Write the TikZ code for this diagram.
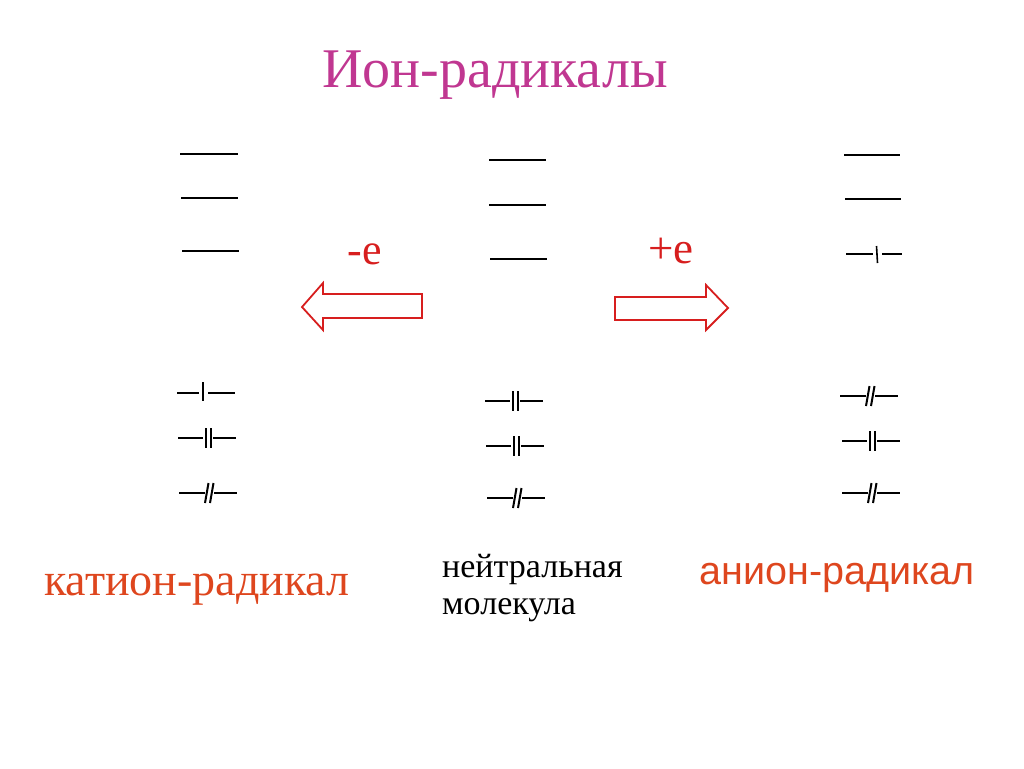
\documentclass[tikz,border=0pt]{standalone}
\usepackage{fontspec}
\setmainfont{Liberation Serif}
\newfontfamily\arialf{Liberation Sans}
\definecolor{titlec}{RGB}{192,55,145}
\definecolor{labelc}{RGB}{222,70,30}
\definecolor{arrc}{RGB}{215,30,30}
\tikzset{
  lvl/.style={line width=2pt, black},
  bigarrow/.style={draw=arrc, line width=1.8pt, fill=white, line join=miter},
  txt/.style={inner sep=0pt, anchor=base},
}
\newcommand\lvlempty[3]{\draw[lvl] (#1,#3)--(#2,#3);}
\newcommand\lvlsingle[2]{%
  \draw[lvl] (#1,#2)--++(22,0) (#1+31,#2)--++(27,0);
  \draw[lvl] (#1+26,#2-11)--++(0,19);}
\newcommand\lvldouble[2]{%
  \draw[lvl] (#1,#2)--++(25,0) (#1+35,#2)--++(23,0);
  \draw[lvl] (#1+27.5,#2-10)--++(0,20) (#1+32.5,#2-10)--++(0,20);}
\newcommand\lvlslant[2]{%
  \draw[lvl] (#1,#2)--++(26,0) (#1+35,#2)--++(23,0);
  \draw[lvl] (#1+26,#2+10)--(#1+29.5,#2-10) (#1+31,#2+10)--(#1+34.5,#2-10);}
\begin{document}
\begin{tikzpicture}[x=1pt,y=-1pt]
\useasboundingbox (0,0) rectangle (1024,768);
% title
\node[txt, text=titlec, font=\fontsize{56}{60}\selectfont] (title) at (495,87) {Ион-радикалы};
% left column (cation radical)
\lvlempty{180}{238}{154}
\lvlempty{181}{238}{198}
\lvlempty{182}{239}{251}
\lvlsingle{177}{393}
\lvldouble{178}{438}
\lvlslant{179}{493}
% middle column (neutral molecule)
\lvlempty{489}{546}{160}
\lvlempty{489}{546}{205}
\lvlempty{490}{547}{259}
\lvldouble{485}{401}
\lvldouble{486}{446}
\lvlslant{487}{498}
% right column (anion radical)
\lvlempty{844}{900}{155}
\lvlempty{845}{901}{199}
\draw[lvl, line width=1.6pt] (846,254)--(873,254) (882,254)--(902,254);
\draw[lvl, line width=1.6pt] (876.5,246)--(877.5,263);
\lvlslant{840}{396}
\lvldouble{842}{441}
\lvlslant{842}{493}
% arrows
\draw[bigarrow] (422,294) -- (323,294) -- (323,283) -- (302,307) -- (323,330) -- (323,318) -- (422,318) -- cycle;
\draw[bigarrow] (615,297) -- (706,297) -- (706,285) -- (728,308) -- (706,330) -- (706,320) -- (615,320) -- cycle;
\node[txt, anchor=center, text=arrc, font=\fontsize{44}{48}\selectfont] (minus) at (365,254) {-e};
\node[txt, anchor=center, text=arrc, font=\fontsize{45}{48}\selectfont] (plus) at (671,251) {+e};
% labels
\node[txt, text=labelc, font=\fontsize{46}{50}\selectfont] (cation) at (197,595) {катион-радикал};
\node[txt, text=labelc, font=\arialf\fontsize{39.5}{44}\selectfont] (anion) at (837,584) {анион-радикал};
\node[txt, anchor=base west, font=\fontsize{34}{38}\selectfont] (neutral1) at (442,577) {нейтральная};
\node[txt, anchor=base west, font=\fontsize{34}{38}\selectfont] (neutral2) at (442,614) {молекула};
\end{tikzpicture}
\end{document}
